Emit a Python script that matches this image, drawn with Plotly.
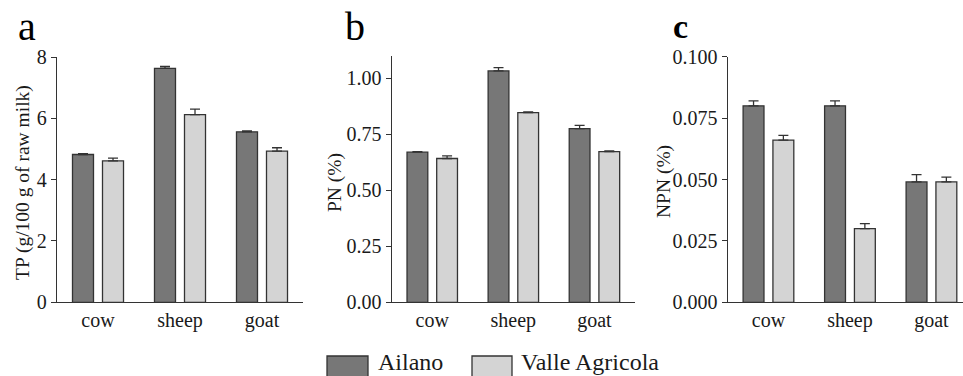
import plotly.graph_objects as go

W, H = 963, 376

categories = ["cow", "sheep", "goat"]
series_names = ["Ailano", "Valle Agricola"]

tp_ailano = [4.82, 7.63, 5.56]
tp_ailano_err = [0.03, 0.06, 0.03]
tp_valle = [4.61, 6.12, 4.93]
tp_valle_err = [0.09, 0.18, 0.11]

pn_ailano = [0.670, 1.033, 0.775]
pn_ailano_err = [0.003, 0.015, 0.015]
pn_valle = [0.642, 0.847, 0.673]
pn_valle_err = [0.012, 0.003, 0.003]

npn_ailano = [0.080, 0.080, 0.049]
npn_ailano_err = [0.002, 0.002, 0.003]
npn_valle = [0.066, 0.030, 0.049]
npn_valle_err = [0.002, 0.002, 0.002]

tp_ticks = [0, 2, 4, 6, 8]
pn_ticks = [0.0, 0.25, 0.5, 0.75, 1.0]
npn_ticks = [0.0, 0.025, 0.05, 0.075, 0.1]

C_DARK = "#777777"
C_LIGHT = "#d4d4d4"
C_LINE = "#333333"
FONT = "Liberation Serif"
TXT = "#1a1a1a"


def px_x(p):
    return p / W


def px_y(p):
    return (H - p) / H


fig = go.Figure()

panels = [
    ("x", "y", tp_ailano, tp_ailano_err, tp_valle, tp_valle_err),
    ("x2", "y2", pn_ailano, pn_ailano_err, pn_valle, pn_valle_err),
    ("x3", "y3", npn_ailano, npn_ailano_err, npn_valle, npn_valle_err),
]

for xa, ya, a_vals, a_err, v_vals, v_err in panels:
    for name, vals, err, col in [
        (series_names[0], a_vals, a_err, C_DARK),
        (series_names[1], v_vals, v_err, C_LIGHT),
    ]:
        fig.add_trace(
            go.Bar(
                x=categories,
                y=vals,
                name=name,
                xaxis=xa,
                yaxis=ya,
                marker=dict(color=col, line=dict(color=C_LINE, width=1.3)),
                error_y=dict(
                    type="data",
                    symmetric=False,
                    array=err,
                    arrayminus=[0] * len(err),
                    color=C_LINE,
                    thickness=1.3,
                    width=5,
                ),
                showlegend=False,
            )
        )

bottom = px_y(302.3)

xcommon = dict(
    type="category",
    automargin=False,
    showline=True,
    linecolor=C_LINE,
    linewidth=1.3,
    ticks="",
    ticklabelstandoff=0,
    showgrid=False,
    zeroline=False,
    tickfont=dict(family=FONT, size=20, color=TXT),
)
ycommon = dict(
    automargin=False,
    showline=True,
    linecolor=C_LINE,
    linewidth=1.3,
    ticks="outside",
    ticklen=5,
    tickwidth=1.3,
    tickcolor=C_LINE,
    showgrid=False,
    zeroline=False,
    tickfont=dict(family=FONT, size=20, color=TXT),
)

fig.update_layout(
    template="none",
    width=W,
    height=H,
    margin=dict(l=0, r=0, t=0, b=0, pad=0),
    paper_bgcolor="white",
    plot_bgcolor="white",
    barmode="group",
    bargap=0.268,
    bargroupgap=0.3,
    showlegend=False,
    font=dict(family=FONT, size=20, color=TXT),
    xaxis=dict(xcommon, domain=[px_x(57), px_x(303)], range=[-0.5, 2.5], anchor="y"),
    yaxis=dict(ycommon, domain=[bottom, px_y(57)], range=[0, 8], tickvals=tp_ticks, anchor="x"),
    xaxis2=dict(xcommon, domain=[px_x(391.7), px_x(635)], range=[-0.5, 2.5], anchor="y2"),
    yaxis2=dict(ycommon, domain=[bottom, px_y(55.9)], range=[0, 1.1], tickvals=pn_ticks,
                tickformat=".2f", anchor="x2"),
    xaxis3=dict(xcommon, domain=[px_x(727.7), 1.0], range=[-0.5, 2.387], anchor="y3"),
    yaxis3=dict(ycommon, domain=[bottom, px_y(56.7)], range=[0, 0.1], tickvals=npn_ticks,
                tickformat=".3f", anchor="x3"),
)

annotations = []
# y-axis titles
for text, xc, yc in [
    ("TP (g/100 g of raw milk)", 23, 183),
    ("PN (%)", 335, 183),
    ("NPN (%)", 664, 182),
]:
    annotations.append(dict(
        text=text, x=px_x(xc), y=px_y(yc), xref="paper", yref="paper",
        xanchor="center", yanchor="middle", textangle=-90, showarrow=False,
        font=dict(family=FONT, size=19.5, color=TXT),
    ))
# panel letters
for text, xl, yc, sz in [("a", 16, 26, 40), ("b", 343, 26, 40), ("<b>c</b>", 671, 27, 34)]:
    annotations.append(dict(
        text=text, x=px_x(xl), y=px_y(yc), xref="paper", yref="paper",
        xanchor="left", yanchor="middle", showarrow=False,
        font=dict(family=FONT, size=sz, color="#000000"),
    ))
# legend
legend_items = [(series_names[0], C_DARK, 327, 368, 376), (series_names[1], C_LIGHT, 472, 512, 519)]
shapes = []
for name, col, x0, x1, xt in legend_items:
    shapes.append(dict(
        type="rect", xref="paper", yref="paper",
        x0=px_x(x0), x1=px_x(x1), y0=px_y(382), y1=px_y(356),
        fillcolor=col, line=dict(color=C_LINE, width=1.3),
    ))
    annotations.append(dict(
        text=name, x=px_x(xt), y=px_y(362), xref="paper", yref="paper",
        xanchor="left", yanchor="middle", showarrow=False,
        font=dict(family=FONT, size=24, color=TXT),
    ))

fig.update_layout(annotations=annotations, shapes=shapes)

fig.write_html("out.html")
